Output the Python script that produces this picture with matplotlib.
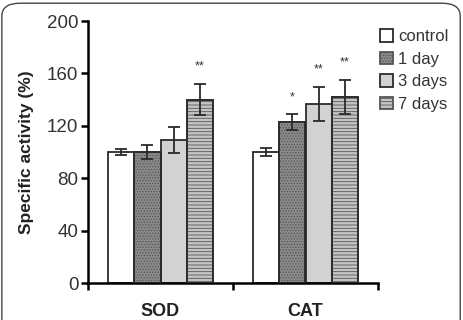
import matplotlib.pyplot as plt
import numpy as np
from matplotlib.patches import FancyBboxPatch

# ── Data ─────────────────────────────────────────────────────────
enzymes = ["SOD", "CAT"]
series = ["control", "1 day", "3 days", "7 days"]
means = [[100, 100, 109, 140],
         [100, 123, 137, 142]]
errors = [[2, 5, 10, 12],
          [3, 6, 13, 13]]
stars = [["", "", "", "**"],
         ["", "*", "**", "**"]]

colors = ["white", "#8a8a8a", "#d2d2d2", "#c4c4c4"]
hatches = [None, "......", None, "-----"]

plt.rcParams["font.family"] = ["Liberation Sans", "DejaVu Sans"]
plt.rcParams["hatch.linewidth"] = 0.6

fig = plt.figure(figsize=(4.63, 3.2), dpi=100)
ax = fig.add_axes([88 / 463, 1 - 283 / 320, 290 / 463, 262 / 320])

bw = 0.18
x = np.arange(len(enzymes))
for i, name in enumerate(series):
    pos = x + (i - 1.5) * bw
    vals = [m[i] for m in means]
    errs = [e[i] for e in errors]
    bars = ax.bar(pos, vals, bw, color=colors[i], edgecolor="#2a2a2a",
                  linewidth=1.3, hatch=hatches[i], label=name, zorder=2)
    if hatches[i]:
        for b in bars:
            b.set_edgecolor("#555555")
        # kontur mørk
        ax.bar(pos, vals, bw, color="none", edgecolor="#2a2a2a",
               linewidth=1.3, zorder=3)
    ax.errorbar(pos, vals, yerr=errs, fmt="none", ecolor="#2a2a2a",
                elinewidth=1.3, capsize=4, capthick=1.3, zorder=4)
    for p, v, e, s in zip(pos, vals, errs, [st[i] for st in stars]):
        if s:
            ax.text(p, v + e + 13, s, ha="center", va="center",
                    fontsize=9, color="#333333")

ax.set_xlim(-0.5, 1.5)
ax.set_ylim(0, 200)
ax.set_yticks([0, 40, 80, 120, 160, 200])
ax.set_xticks([-0.5, 0.5, 1.5])
ax.set_xticklabels([])
for xi, name in zip(x, enzymes):
    ax.text(xi, -22, name, ha="center", va="center", fontsize=13,
            fontweight="bold", color="#222222")
ax.tick_params(axis="both", direction="out", width=1.8, length=5,
               labelsize=13.5, colors="black", pad=2)
ax.tick_params(axis="y", labelcolor="#333333")
for s in ["top", "right"]:
    ax.spines[s].set_visible(False)
for s in ["left", "bottom"]:
    ax.spines[s].set_linewidth(1.8)
ax.set_ylabel("Specific activity (%)", fontsize=12.5, fontweight="bold",
              labelpad=9, color="#222222")

leg = fig.legend(loc="upper left", bbox_to_anchor=(372 / 463, 1 - 21 / 320),
                 frameon=False, fontsize=12, handlelength=0.75,
                 handleheight=0.75, handletextpad=0.3, labelspacing=0.45,
                 borderpad=0)
for t in leg.get_texts():
    t.set_color("#333333")

# ── Ramme ────────────────────────────────────────────────────────
frame = FancyBboxPatch((0.004, -0.05), 0.99, 1.04,
                       boxstyle="round,pad=0,rounding_size=0.04",
                       transform=fig.transFigure, fill=False,
                       edgecolor="#444444", linewidth=1.0)
fig.patches.append(frame)

fig.savefig("out.png", dpi=100, facecolor="white")
